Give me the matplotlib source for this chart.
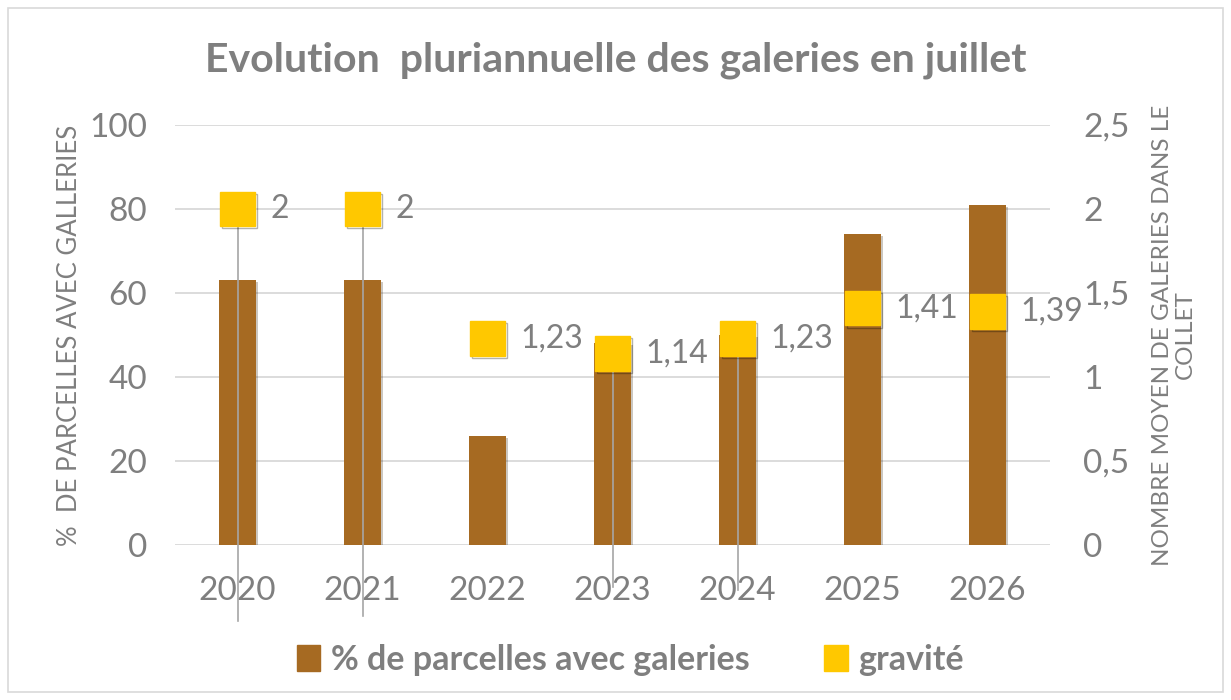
import matplotlib.pyplot as plt
from matplotlib.patches import Rectangle, Patch
import matplotlib.patheffects as pe

plt.rcParams['font.family'] = ['Lato', 'DejaVu Sans']

# donnees
annees = ['2020', '2021', '2022', '2023', '2024', '2025', '2026']
pct_parcelles = [63, 63, 26, 48, 50, 74, 81]
gravite = [2, 2, 1.23, 1.14, 1.23, 1.41, 1.39]
gravite_labels = ['2', '2', '1,23', '1,14', '1,23', '1,41', '1,39']
# lignes de repere (artefacts des etiquettes) : annees concernees et bas des lignes
repere_idx = [0, 1, 3, 4]
repere_bas = [-0.45, -0.42, -0.25, -0.27]

brun = '#A66A22'
jaune = '#FFC800'
gris = '#7F7F7F'

fig = plt.figure(figsize=(12.31, 7.0), dpi=100)
ax = fig.add_axes([175 / 1231, 1 - 545 / 700, 875 / 1231, 420 / 700])
ax2 = ax.twinx()

x = list(range(len(annees)))
ombre = [pe.SimplePatchShadow(offset=(1.5, -1.5), alpha=0.25), pe.Normal()]
ax.bar(x, pct_parcelles, width=0.3, color=brun, zorder=2,
       label='% de parcelles avec galeries', path_effects=ombre)

ax.set_xlim(-0.5, 6.5)
ax.set_ylim(0, 100)
ax.set_yticks([0, 20, 40, 60, 80, 100])
ax.set_xticks(x)
ax.set_xticklabels(annees)
ax.grid(axis='y', color='#D9D9D9', linewidth=1.3, zorder=0)
ax.set_axisbelow(True)

ax2.set_ylim(0, 2.5)
ax2.set_yticks([0, 0.5, 1, 1.5, 2, 2.5])
ax2.set_yticklabels(['0', '0,5', '1', '1,5', '2', '2,5'])

for a in (ax, ax2):
    for s in a.spines.values():
        s.set_visible(False)
    a.tick_params(length=0, labelsize=24, colors=gris)
ax.tick_params(axis='x', pad=22)
ax.tick_params(axis='y', pad=20)
ax2.tick_params(axis='y', pad=24)

# lignes de repere grises
for i, bas in zip(repere_idx, repere_bas):
    ax2.plot([i, i], [gravite[i], bas], color='#A6A6A6', linewidth=1.2,
             clip_on=False, zorder=3)

ax2.plot(x, gravite, linestyle='none', marker='s', markersize=25,
         color=jaune, label='gravité', zorder=4,
         path_effects=[pe.SimpleLineShadow(offset=(1.5, -1.5), alpha=0.3), pe.Normal()])
for i, (v, t) in enumerate(zip(gravite, gravite_labels)):
    ax2.annotate(t, (i, v), xytext=(24, 0), textcoords='offset points',
                 va='center', ha='left', fontsize=23, color=gris, zorder=5)

ax.set_ylabel('%  DE PARCELLES AVEC GALLERIES', fontsize=18.5, color=gris, labelpad=5)
ax2.set_ylabel('NOMBRE MOYEN DE GALERIES DANS LE\nCOLLET', fontsize=17.5, color=gris,
               rotation=90, labelpad=16, linespacing=1.1)

fig.text(0.5, 1 - 60 / 700, 'Evolution  pluriannuelle des galeries en juillet',
         ha='center', va='center', fontsize=29.5, fontweight='bold', color=gris)

handles = [Patch(color=brun), Patch(color=jaune)]
leg = fig.legend(handles, ['% de parcelles avec galeries', 'gravité'], loc='center',
                 bbox_to_anchor=(0.512, 1 - 660 / 700),
                 ncol=2, frameon=False, handlelength=0.7, handleheight=0.8,
                 handletextpad=0.3, columnspacing=2.2,
                 prop={'size': 24.5, 'weight': 'bold'})
for t in leg.get_texts():
    t.set_color(gris)

fig.patches.append(Rectangle((8 / 1231, 8 / 700), 1 - 16 / 1231, 1 - 16 / 700,
                             transform=fig.transFigure, fill=False,
                             edgecolor='#D9D9D9', linewidth=1.2))

fig.savefig('out.png', dpi=100)
